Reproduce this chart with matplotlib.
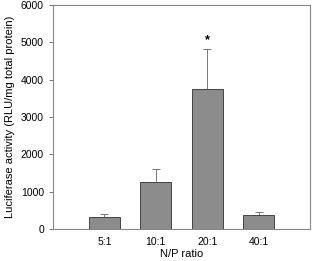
import matplotlib
matplotlib.use("Agg")
import matplotlib.pyplot as plt

categories = ["5:1", "10:1", "20:1", "40:1"]
values = [310, 1250, 3750, 370]
errors = [100, 350, 1070, 85]
sig = [False, False, True, False]
yticks = [0, 1000, 2000, 3000, 4000, 5000, 6000]

plt.rcParams['font.family'] = ['Liberation Sans', 'DejaVu Sans']
fig = plt.figure(figsize=(3.12, 2.61), dpi=100)
ax = fig.add_axes([53/312, 1-229/261, (310-53)/312, (229-5)/261])

pos = list(range(1, len(categories)+1))
ax.bar(pos, values, width=0.6, color="#8c8c8c", edgecolor="#444444", linewidth=0.7, zorder=2)
ax.errorbar(pos, values, yerr=[[0]*len(errors), errors], fmt="none", ecolor="#777777",
            elinewidth=0.7, capsize=3, capthick=0.7, zorder=1)
for p, v, e, s in zip(pos, values, errors, sig):
    if s:
        ax.text(p, v + e + 80, "*", ha="center", va="bottom", fontsize=9, fontweight="bold")

ax.set_xlim(0, 5)
ax.set_ylim(0, 6000)
ax.set_yticks(yticks)
ax.set_xticks(pos)
ax.set_xticklabels(categories)
ax.tick_params(axis="x", length=0, labelsize=7.5, pad=6)
ax.tick_params(axis="y", length=3, width=0.7, labelsize=7.5, color="#777777")
for sp in ax.spines.values():
    sp.set_color("#888888")
    sp.set_linewidth(0.8)
ax.set_xlabel("N/P ratio", fontsize=8, labelpad=1)
ax.set_ylabel("Luciferase activity (RLU/mg total protein)", fontsize=8, labelpad=4)

fig.savefig("out.png", dpi=100)
